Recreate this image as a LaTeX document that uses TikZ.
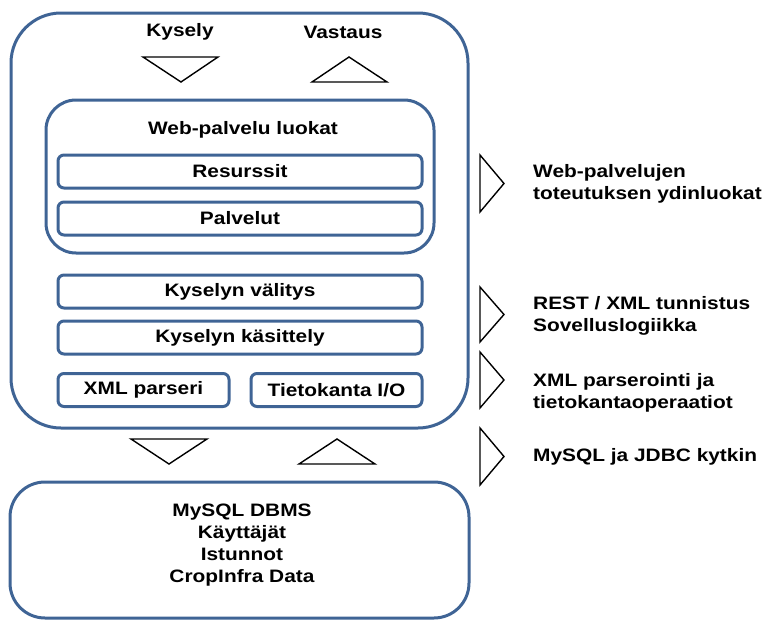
\documentclass[tikz,border=0pt]{standalone}
\usepackage{fontspec}
\setmainfont{Liberation Sans}[FakeStretch=1.16]
\usetikzlibrary{positioning}
\definecolor{boxblue}{HTML}{3F6495}
\tikzset{
  frame/.style   = {draw=boxblue, line width=3pt, rounded corners=#1, inner sep=0pt},
  frame/.default = 50pt,
  layer/.style   = {draw=boxblue, line width=3pt, rounded corners=6pt, inner sep=0pt,
                    minimum height=33pt, font=\fontsize{18}{22}\selectfont\bfseries},
  tri/.style     = {draw=black, line width=1.4pt, line join=miter},
  txt/.style     = {font=\fontsize{18}{22}\selectfont\bfseries, inner sep=0pt},
  note/.style    = {txt, anchor=west, align=left},
}
\begin{document}
\begin{tikzpicture}[x=1pt,y=-1pt]
  \useasboundingbox (0,0) rectangle (764,621);
  % application server
  \node[frame, minimum width=457pt, minimum height=415pt] (app) at (239.5,220.5) {};
  \node[txt] (kysely) at (180,32) {Kysely};
  \node[txt] (vastaus) at (343,32) {Vastaus};
  \draw[tri] (143,57) -- (218,57) -- (181,82) -- cycle;
  \draw[tri] (312,82) -- (387,82) -- (349,57) -- cycle;
  % web service classes
  \node[frame=30pt, minimum width=388pt, minimum height=153pt] (web) at (240,176.5) {};
  \node[txt] (webtxt) at (243,130) {Web-palvelu luokat};
  \node[layer, minimum width=364pt] (res) at (240,171.5) {Resurssit};
  \node[layer, minimum width=364pt, below=11pt of res] (pal) {Palvelut};
  \node[layer, minimum width=364pt] (val) at (240,291.5) {Kyselyn välitys};
  \node[layer, minimum width=364pt, below=10pt of val] (kas) {Kyselyn käsittely};
  \node[layer, minimum width=171pt] (xml) at (143.5,390) {XML parseri};
  \node[layer, minimum width=171pt] (tio) at (336.5,390) {Tietokanta I/O};
  % database
  \draw[tri] (131,439) -- (207,439) -- (169,464) -- cycle;
  \draw[tri] (299,464) -- (375,464) -- (337,439) -- cycle;
  \node[frame=35pt, minimum width=459pt, minimum height=136pt] (db) at (239.5,550) {};
  \node[txt, align=center] (dbtxt) at (242,545)
    {MySQL DBMS\\Käyttäjät\\Istunnot\\CropInfra Data};
  % layer notes
  \draw[tri] (480,155) -- (504,183.5) -- (480,212) -- cycle;
  \node[note] (n1) at (533,184) {Web-palvelujen\\toteutuksen ydinluokat};
  \draw[tri] (480,287) -- (504,314.5) -- (480,342) -- cycle;
  \node[note] (n2) at (533,316) {REST / XML tunnistus\\Sovelluslogiikka};
  \draw[tri] (480,352) -- (504,380) -- (480,408) -- cycle;
  \node[note] (n3) at (533,393) {XML parserointi ja\\tietokantaoperaatiot};
  \draw[tri] (480,428) -- (504,456.5) -- (480,485) -- cycle;
  \node[note] (n4) at (533,457) {MySQL ja JDBC kytkin};
\end{tikzpicture}
\end{document}
